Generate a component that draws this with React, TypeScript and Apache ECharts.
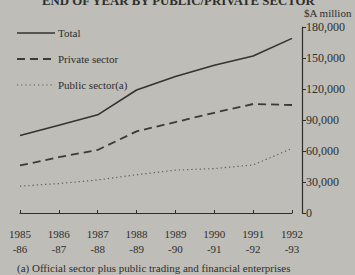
import React, { useEffect, useRef } from "react";
import * as echarts from "echarts";

const categories = ["1985\n-86", "1986\n-87", "1987\n-88", "1988\n-89", "1989\n-90", "1990\n-91", "1991\n-92", "1992\n-93"];
const totalValues = [75000, 85000, 95000, 119000, 132000, 143000, 152000, 169000];
const privateValues = [46000, 54000, 61000, 79000, 88000, 97000, 105500, 104500];
const publicValues = [26000, 28500, 32000, 37000, 41500, 43000, 46500, 62500];
const yTicks = [0, 30000, 60000, 90000, 120000, 150000, 180000];
const seriesNames = ["Total", "Private sector", "Public sector(a)"];

const FONT = "Liberation Serif";
const INK = "#2e2e2c";
const BG = "#bebdb7";

const styles = [
  { color: "#333331", width: 1.6, dash: null as number[] | null },
  { color: "#3a3a38", width: 1.8, dash: [8, 5] },
  { color: "#5a5a56", width: 1.2, dash: [1.2, 3] },
];

export default function App() {
  const ref = useRef<HTMLDivElement>(null);
  useEffect(() => {
    if (!ref.current) return;
    const chart = echarts.init(ref.current, null, { renderer: "svg" });
    const legendGraphics: any[] = [];
    seriesNames.forEach((name, i) => {
      const y = 33 + i * 26;
      const s = styles[i];
      legendGraphics.push({
        type: "line",
        shape: { x1: 17, y1: y, x2: 55, y2: y },
        style: { stroke: s.color, lineWidth: s.width, lineDash: s.dash || undefined },
      });
      legendGraphics.push({
        type: "text",
        x: 58,
        y: y,
        style: { text: name, fontFamily: FONT, fontSize: 11, fill: INK, textVerticalAlign: "middle" },
      });
    });
    chart.setOption({
      animation: false,
      backgroundColor: BG,
      textStyle: { fontFamily: FONT, color: INK },
      grid: { left: 20, right: 63, top: 27, bottom: 62, containLabel: false },
      xAxis: {
        type: "category",
        data: categories,
        boundaryGap: false,
        offset: 11,
        axisLine: { show: true, lineStyle: { color: INK, width: 1.2 } },
        axisTick: { show: true, inside: true, length: 3, lineStyle: { color: INK } },
        axisLabel: { fontFamily: FONT, fontSize: 11, color: INK, lineHeight: 15, margin: 2 },
        splitLine: { show: false },
      },
      yAxis: {
        type: "value",
        position: "right",
        offset: 10,
        min: 0,
        max: 180000,
        interval: 30000,
        axisLine: { show: true, lineStyle: { color: INK, width: 1.2 } },
        axisTick: { show: true, length: 4, lineStyle: { color: INK } },
        axisLabel: {
          fontFamily: FONT,
          fontSize: 12,
          color: INK,
          margin: 4,
          formatter: (v: number) => (yTicks.includes(v) ? v.toLocaleString("en-US") : ""),
        },
        splitLine: { show: false },
      },
      graphic: [
        {
          type: "text",
          left: 42,
          top: -6,
          style: { text: "END OF YEAR BY PUBLIC/PRIVATE SECTOR", fontFamily: FONT, fontSize: 12.8, fontWeight: "bold", fill: INK },
        },
        {
          type: "text",
          right: 3,
          top: 7,
          style: { text: "$A million", fontFamily: FONT, fontSize: 11, fill: INK },
        },
        {
          type: "text",
          left: 17,
          top: 262,
          style: { text: "(a) Official sector plus public trading and financial enterprises", fontFamily: FONT, fontSize: 11, fill: INK },
        },
        ...legendGraphics,
      ],
      series: seriesNames.map((name, i) => ({
        name,
        type: "line",
        data: [totalValues, privateValues, publicValues][i],
        symbol: "none",
        lineStyle: { color: styles[i].color, width: styles[i].width, type: styles[i].dash || "solid" },
        itemStyle: { color: styles[i].color },
      })),
    });
    return () => chart.dispose();
  }, []);
  return <div ref={ref} style={{ width: 355, height: 275, position: "absolute", left: 0, top: 0 }} />;
}
